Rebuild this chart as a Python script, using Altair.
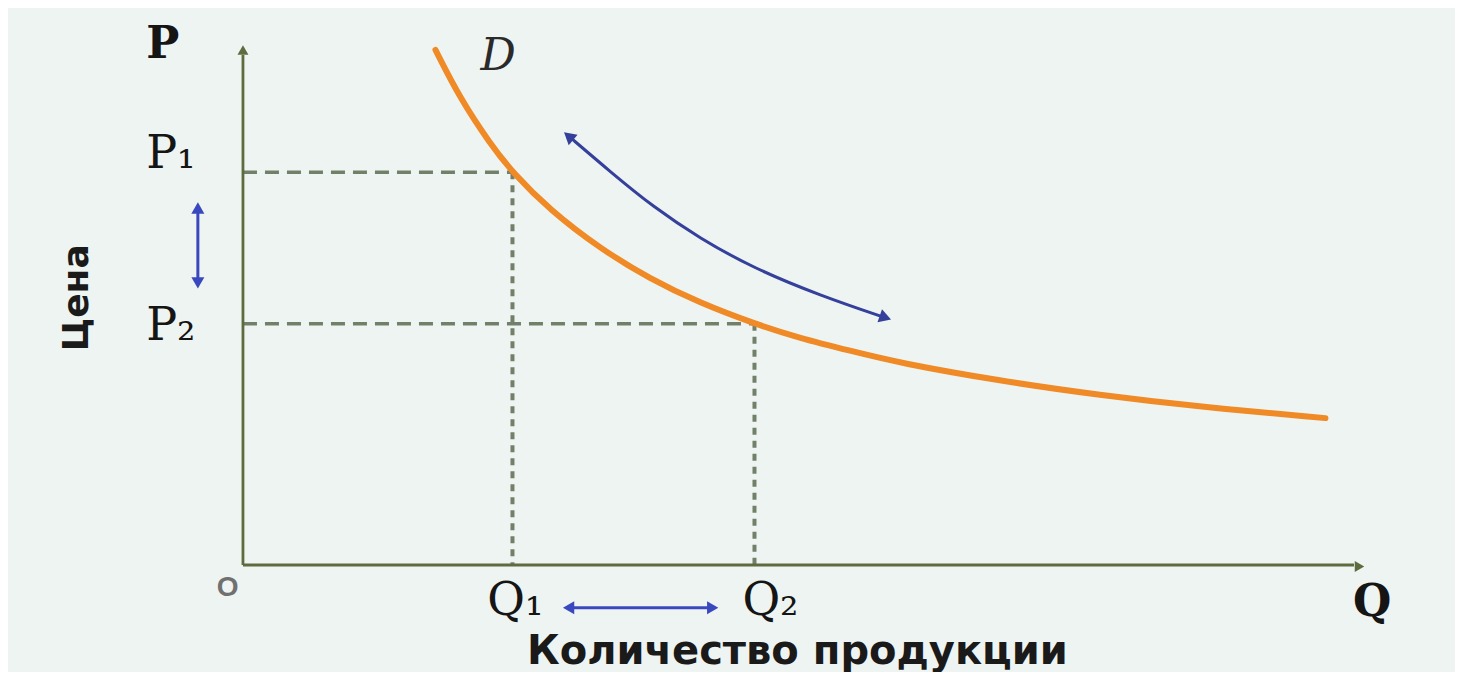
import altair as alt
import pandas as pd

# ---- data (chart units: Q along x, P along y) ----
curve_q = [17.5, 19.7, 22.5, 24.5, 27.9, 32.5, 37.0, 41.5, 46.5, 50.6, 55.2, 59.7, 68.8, 77.9, 87.0, 98.4]
curve_p = [101.0, 91.6, 82.5, 77.0, 69.6, 62.0, 56.1, 51.4, 47.3, 44.5, 42.0, 39.6, 36.1, 33.3, 31.0, 28.8]

arc_q = [29.5, 33.4, 37.3, 41.5, 46.4, 52.5, 58.5]
arc_p = [84.3, 77.1, 70.2, 64.1, 58.2, 52.8, 48.4]

P1, P2 = 77.0, 47.3
Q1, Q2 = 24.5, 46.5
Y_TOP, X_END = 100.0, 101.0

# small double arrows
vArrow_q, vArrow_p = -4.1, [55.1, 70.2]
hArrow_p, hArrow_q = -8.4, [29.5, 42.8]

# arrow heads
head_q = [0.0, 101.5, 29.6, 58.4, -4.1, -4.1, 29.6, 42.7]
head_p = [101.0, -0.3, 84.1, 48.5, 70.0, 55.3, -8.4, -8.4]
head_angle = [0, 90, 310, 109, 0, 180, 270, 90]
head_color = ["#5d6b3e", "#5d6b3e", "#34409a", "#34409a", "#3a48c0", "#3a48c0", "#3a48c0", "#3a48c0"]
head_size = [120, 120, 190, 190, 170, 170, 170, 170]

# labels
serif_text = ["P₁", "P₂", "Q₁", "Q₂"]
serif_q = [-8.8, -8.8, 22.2, 45.4]
serif_p = [77.8, 44.1, -9.9, -9.9]

bold_text = ["P", "Q"]
bold_q = [-8.8, 100.9]
bold_p = [99.4, -10.0]

x_title = "Количество продукции"
y_title = "Цена"
curve_name = "D"
origin_text = "O"

# ---- scales ----
W, H = 1447, 655
xs = alt.Scale(domain=[-21.36, 110.18], nice=False, zero=False)
ys = alt.Scale(domain=[-19.22, 109.22], nice=False, zero=False)


def X(f="q"):
    return alt.X(f"{f}:Q", scale=xs, axis=None)


def Y(f="p"):
    return alt.Y(f"{f}:Q", scale=ys, axis=None)


# axes
y_axis = alt.Chart(pd.DataFrame({"q": [0.0], "p": [0.0], "p2": [Y_TOP]})).mark_rule(
    color="#5d6b3e", strokeWidth=2.8).encode(x=X(), y=Y(), y2="p2:Q")
x_axis = alt.Chart(pd.DataFrame({"q": [0.0], "q2": [X_END], "p": [0.0]})).mark_rule(
    color="#5d6b3e", strokeWidth=2.8).encode(x=X(), x2="q2:Q", y=Y())

# dashed guides
h_dash = alt.Chart(pd.DataFrame({"q": [0.0, 0.0], "q2": [Q1, Q2], "p": [P1, P2]})).mark_rule(
    color="#72806a", strokeWidth=3.5, strokeDash=[14, 8]).encode(x=X(), x2="q2:Q", y=Y())
v_dash = alt.Chart(pd.DataFrame({"q": [Q1, Q2], "p": [P1, P2], "p2": [0.0, 0.0]})).mark_rule(
    color="#72806a", strokeWidth=4, strokeDash=[7, 6]).encode(x=X(), y=Y(), y2="p2:Q")

# demand curve
curve_df = pd.DataFrame({"q": curve_q, "p": curve_p, "i": range(len(curve_q))})
curve = alt.Chart(curve_df).mark_line(color="#ef8a26", strokeWidth=6, strokeCap="round",
                                      interpolate="basis").encode(x=X(), y=Y(), order="i:Q")

# blue arc
arc_df = pd.DataFrame({"q": arc_q, "p": arc_p, "i": range(len(arc_q))})
arc = alt.Chart(arc_df).mark_line(color="#34409a", strokeWidth=3,
                                  interpolate="basis").encode(x=X(), y=Y(), order="i:Q")

# small double arrows
v_arrow = alt.Chart(pd.DataFrame({"q": [vArrow_q], "p": [vArrow_p[0]], "p2": [vArrow_p[1]]})).mark_rule(
    color="#3a48c0", strokeWidth=3).encode(x=X(), y=Y(), y2="p2:Q")
h_arrow = alt.Chart(pd.DataFrame({"q": [hArrow_q[0]], "q2": [hArrow_q[1]], "p": [hArrow_p]})).mark_rule(
    color="#3a48c0", strokeWidth=3).encode(x=X(), x2="q2:Q", y=Y())

heads_df = pd.DataFrame({"q": head_q, "p": head_p, "a": head_angle, "c": head_color, "s": head_size})
heads = alt.Chart(heads_df).mark_point(shape="triangle-up", filled=True, opacity=1).encode(
    x=X(), y=Y(),
    angle=alt.Angle("a:Q", scale=None),
    color=alt.Color("c:N", scale=None),
    size=alt.Size("s:Q", scale=None),
)

# labels
serif_df = pd.DataFrame({"t": serif_text, "q": serif_q, "p": serif_p})
serif_labels = alt.Chart(serif_df).mark_text(
    font="DejaVu Serif", fontSize=46, align="left", baseline="alphabetic", color="#151515"
).encode(x=X(), y=Y(), text="t:N")

bold_df = pd.DataFrame({"t": bold_text, "q": bold_q, "p": bold_p})
bold_labels = alt.Chart(bold_df).mark_text(
    font="DejaVu Serif", fontSize=44, fontWeight="bold", align="left", baseline="alphabetic", color="#151515"
).encode(x=X(), y=Y(), text="t:N")

d_label = alt.Chart(pd.DataFrame({"t": [curve_name], "q": [21.6], "p": [97.0]})).mark_text(
    font="DejaVu Serif", fontSize=44, fontStyle="italic", align="left", baseline="alphabetic", color="#2a2a2a"
).encode(x=X(), y=Y(), text="t:N")

o_label = alt.Chart(pd.DataFrame({"t": [origin_text], "q": [-1.4], "p": [-4.5]})).mark_text(
    font="Liberation Sans", fontSize=28, fontWeight="bold", align="center", baseline="middle", color="#707070"
).encode(x=X(), y=Y(), text="t:N")

xt = alt.Chart(pd.DataFrame({"t": [x_title], "q": [50.4], "p": [-17.0]})).mark_text(
    font="DejaVu Sans", fontSize=40, fontWeight="bold", align="center", baseline="middle", color="#1a1a1a"
).encode(x=X(), y=Y(), text="t:N")

yt = alt.Chart(pd.DataFrame({"t": [y_title], "q": [-15.1], "p": [52.4]})).mark_text(
    font="DejaVu Sans", fontSize=36, fontWeight="bold", align="center", baseline="middle", angle=270,
    color="#1a1a1a"
).encode(x=X(), y=Y(), text="t:N")

chart = alt.layer(
    h_dash, v_dash, y_axis, x_axis, curve, arc, v_arrow, h_arrow, heads,
    serif_labels, bold_labels, d_label, o_label, xt, yt
).properties(
    width=W, height=H, padding=0, background="#eef4f2"
).configure_view(stroke=None)

chart.save("out.html", embed_options={"renderer": "svg", "actions": False})
